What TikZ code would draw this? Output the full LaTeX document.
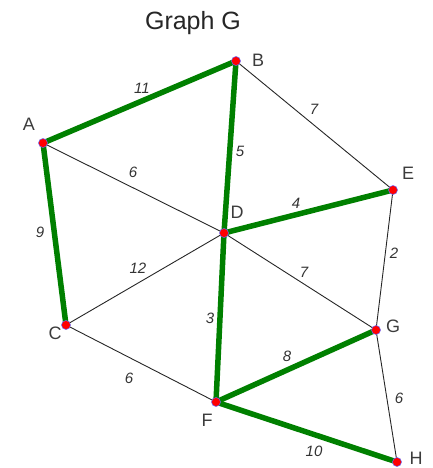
\documentclass[tikz,border=0pt]{standalone}
\usepackage{fontspec}
\setmainfont{Liberation Sans}
\usetikzlibrary{backgrounds}
\definecolor{mstgreen}{RGB}{0,128,0}
\definecolor{txtgray}{RGB}{60,60,60}
\tikzset{
  vtx/.style={circle,fill=red,draw=blue!60,line width=0.5pt,inner sep=0pt,minimum size=9pt},
  mst/.style={draw=mstgreen,line width=5.5pt},
  plain/.style={draw=black!85,line width=0.9pt},
  vlabel/.style={text=txtgray,font=\fontsize{18}{20}\selectfont,inner sep=0pt},
  wlabel/.style={text=black!80,font=\fontsize{15}{17}\selectfont\itshape,inner sep=0pt},
  title/.style={text=black!85,font=\fontsize{25}{27}\selectfont,inner sep=0pt}
}
\begin{document}
\begin{tikzpicture}[x=1pt,y=-1pt]
\useasboundingbox (0,0) rectangle (432,468);
\node[title] (title) at (193,23) {Graph G};
% vertices
\node[vtx] (A) at (43,143) {};
\node[vtx] (B) at (236,61) {};
\node[vtx] (C) at (66,325) {};
\node[vtx] (D) at (224,233) {};
\node[vtx] (E) at (393,190) {};
\node[vtx] (F) at (216,402) {};
\node[vtx] (G) at (376,330) {};
\node[vtx] (H) at (397,462) {};
\begin{pgfonlayer}{background}
\draw[plain] (B.center) -- (E.center);
\draw[plain] (A.center) -- (D.center);
\draw[plain] (C.center) -- (D.center);
\draw[plain] (D.center) -- (G.center);
\draw[plain] (E.center) -- (G.center);
\draw[plain] (C.center) -- (F.center);
\draw[plain] (G.center) -- (H.center);
\draw[mst] (A.center) -- (B.center);
\draw[mst] (B.center) -- (D.center);
\draw[mst] (D.center) -- (E.center);
\draw[mst] (A.center) -- (C.center);
\draw[mst] (D.center) -- (F.center);
\draw[mst] (F.center) -- (G.center);
\draw[mst] (F.center) -- (H.center);
\end{pgfonlayer}
% vertex labels
\node[vlabel] (lA) at (29,124) {A};
\node[vlabel] (lB) at (258,60) {B};
\node[vlabel] (lC) at (55,333) {C};
\node[vlabel] (lD) at (237,212) {D};
\node[vlabel] (lE) at (408,173) {E};
\node[vlabel] (lF) at (207,420) {F};
\node[vlabel] (lG) at (393,326) {G};
\node[vlabel] (lH) at (416,458) {H};
% weights
\node[wlabel] (wAB) at (142,88) {11};
\node[wlabel] (wBE) at (314,109) {7};
\node[wlabel] (wBD) at (240,151) {5};
\node[wlabel] (wAD) at (133,172) {6};
\node[wlabel] (wDE) at (296,203) {4};
\node[wlabel] (wAC) at (40,232) {9};
\node[wlabel] (wCD) at (138,268) {12};
\node[wlabel] (wDG) at (304,272) {7};
\node[wlabel] (wEG) at (394,253) {2};
\node[wlabel] (wDF) at (210,318) {3};
\node[wlabel] (wFG) at (287,356) {8};
\node[wlabel] (wCF) at (129,378) {6};
\node[wlabel] (wGH) at (399,398) {6};
\node[wlabel] (wFH) at (314,451) {10};
\end{tikzpicture}
\end{document}
